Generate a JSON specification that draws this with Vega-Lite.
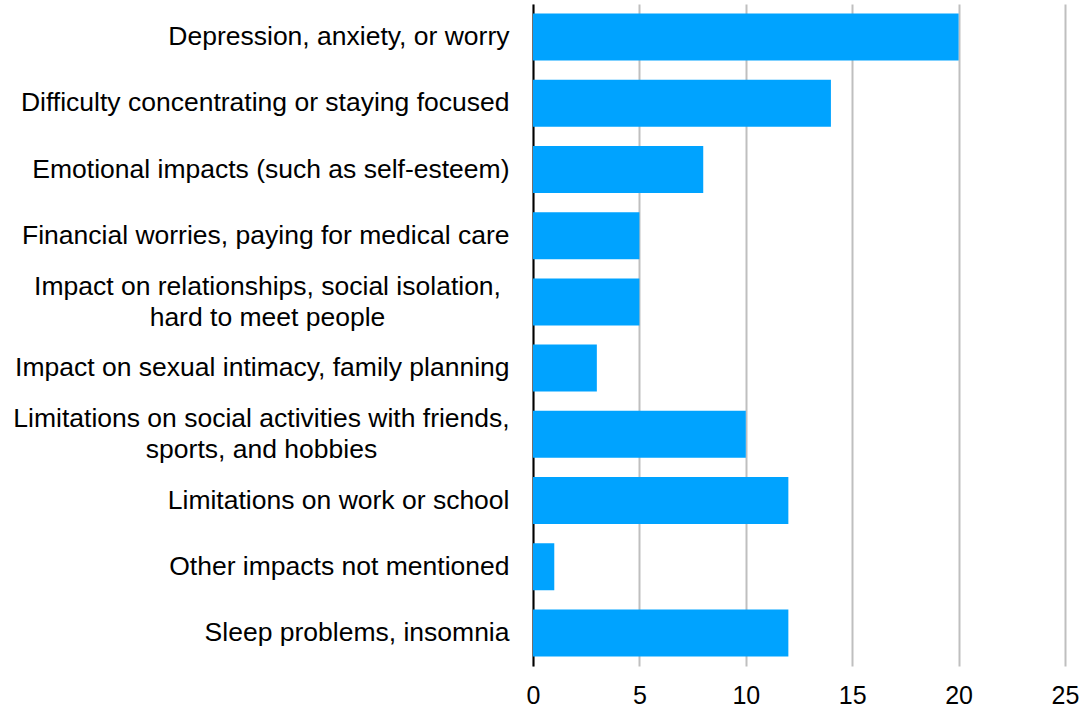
{
  "$schema": "https://vega.github.io/schema/vega-lite/v6.json",
  "width": 532,
  "height": 662,
  "autosize": "none",
  "padding": {"left": 533, "top": 4, "right": 27, "bottom": 44},
  "background": "white",
  "data": {
    "values": [
      {"impact": "Depression, anxiety, or worry", "count": 20},
      {"impact": "Difficulty concentrating or staying focused", "count": 14},
      {"impact": "Emotional impacts (such as self-esteem)", "count": 8},
      {"impact": "Financial worries, paying for medical care", "count": 5},
      {"impact": "Impact on relationships, social isolation,|hard to meet people", "count": 5},
      {"impact": "Impact on sexual intimacy, family planning", "count": 3},
      {"impact": "Limitations on social activities with friends,|sports, and hobbies", "count": 10},
      {"impact": "Limitations on work or school", "count": 12},
      {"impact": "Other impacts not mentioned", "count": 1},
      {"impact": "Sleep problems, insomnia", "count": 12}
    ]
  },
  "mark": {"type": "bar", "color": "#00A3FF"},
  "encoding": {
    "y": {
      "field": "impact",
      "type": "nominal",
      "sort": null,
      "scale": {"paddingInner": 0.29, "paddingOuter": 0.145},
      "axis": {
        "title": null,
        "ticks": false,
        "domain": true,
        "domainColor": "#000000",
        "domainWidth": 2,
        "labelFont": "Liberation Sans",
        "labelFontSize": 26.5,
        "labelColor": "#000000",
        "labelLimit": 0,
        "labelLineHeight": 31,
        "labelExpr": "split(datum.value, '|')",
        "labelAlign": {"condition": {"test": "indexof(datum.value, '|') >= 0", "value": "center"}, "value": "right"},
        "labelPadding": {"condition": [
          {"test": "indexof(datum.value, 'Limitations on social') >= 0", "value": 272},
          {"test": "indexof(datum.value, '|') >= 0", "value": 266}
        ], "value": 24},
        "labelOffset": {"condition": {"test": "indexof(datum.value, '|') >= 0", "value": -15}, "value": 0}
      }
    },
    "x": {
      "field": "count",
      "type": "quantitative",
      "scale": {"domain": [0, 25], "nice": false},
      "axis": {
        "title": null,
        "values": [0, 5, 10, 15, 20, 25],
        "ticks": false,
        "domain": false,
        "grid": true,
        "gridColor": "#BFBFBF",
        "gridWidth": 2,
        "labelFont": "Liberation Sans",
        "labelFontSize": 25,
        "labelColor": "#000000",
        "labelPadding": 17,
        "labelFlush": false
      }
    }
  },
  "config": {"view": {"stroke": null}}
}
